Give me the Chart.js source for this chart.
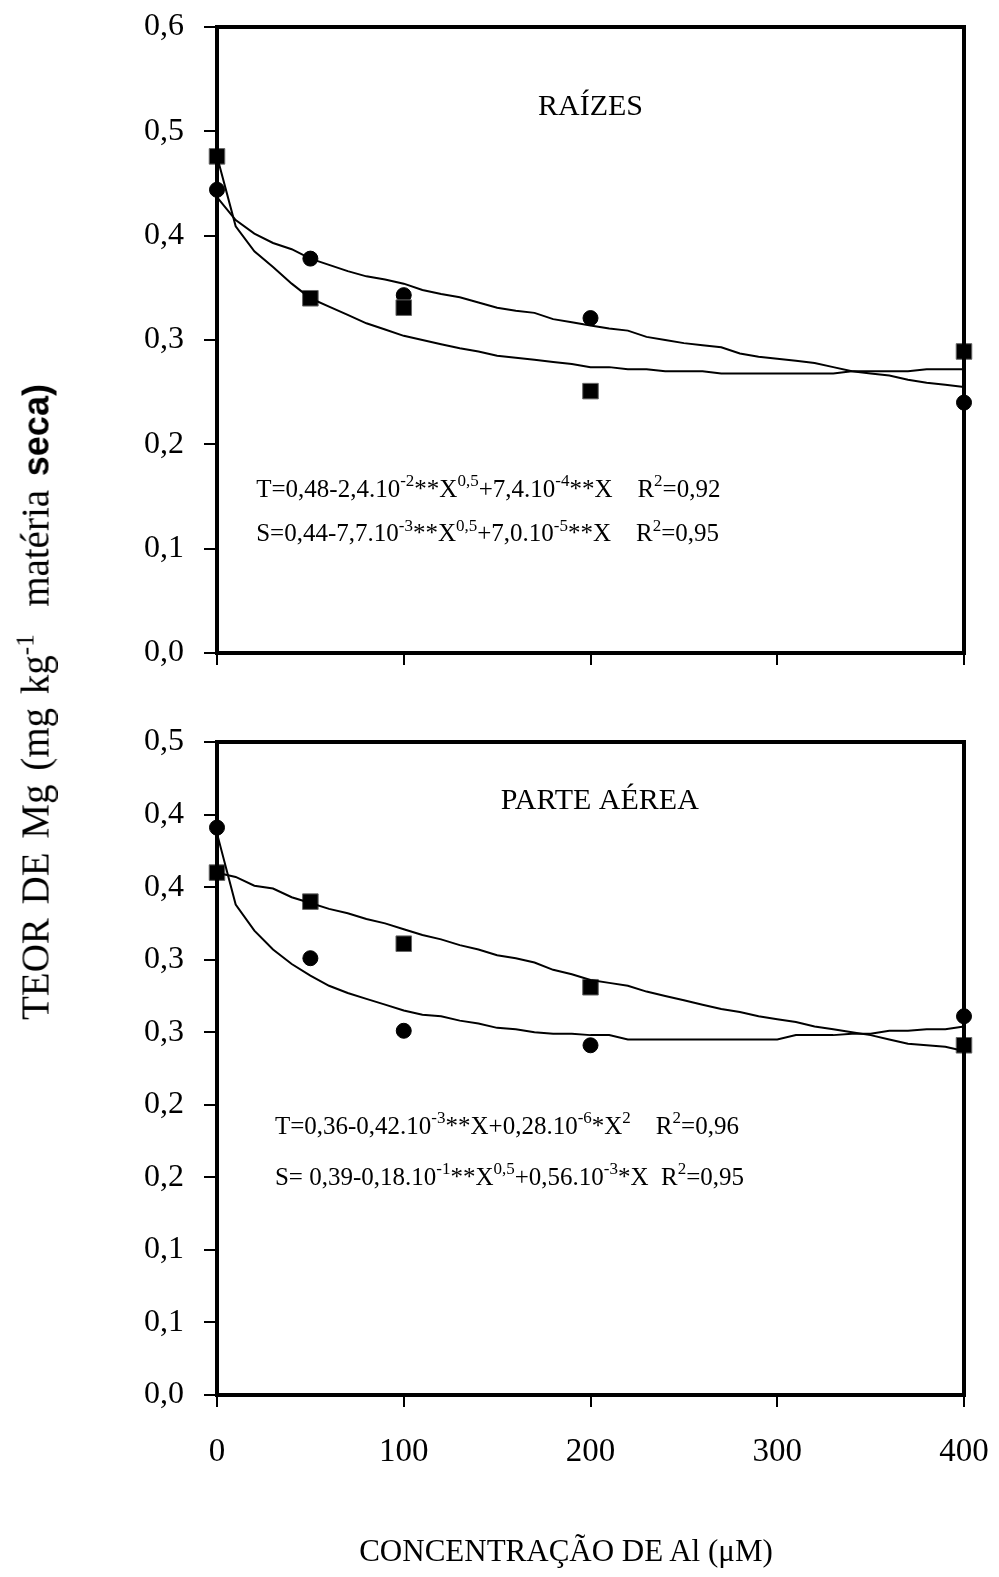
<!DOCTYPE html>
<html>
<head>
<meta charset="utf-8">
<script src="https://cdn.jsdelivr.net/npm/chart.js@4/dist/chart.umd.min.js"></script>
<style>
  body { margin: 0; background: #fff; width: 999px; height: 1577px; overflow: hidden; position: relative; }
  .panel { position: absolute; left: 0; width: 999px; }
  .ytitle {
    position: absolute; left: 35px; top: 702px; white-space: nowrap;
    transform: translate(-50%, -50%) rotate(-90deg);
    font-family: 'Liberation Serif', serif; font-size: 39px; color: #000; word-spacing: 4px;
  }
  .ytitle sup { font-size: 25px; vertical-align: 15px; line-height: 0; }
  .ytitle b { font-family: 'Liberation Sans', Arial, sans-serif; font-weight: bold; font-size: 36px; }
  .xtitle {
    position: absolute; left: 566px; top: 1551px; white-space: nowrap;
    transform: translate(-50%, -50%);
    font-family: 'Liberation Serif', serif; font-size: 31px; color: #000;
  }
</style>
</head>
<body>
<div class="panel" style="top:0;height:700px"><canvas id="raizes"></canvas></div>
<div class="panel" style="top:700px;height:877px"><canvas id="parte-aerea"></canvas></div>
<div class="ytitle">TEOR DE Mg (mg kg<sup>-1</sup>&nbsp; matéria <b>seca)</b></div>
<div class="xtitle">CONCENTRAÇÃO DE Al (μM)</div>
<script>
// doses de Al (µM) das observações
const doses = [0, 50, 100, 200, 400];
// eixo x das curvas ajustadas (vértices a cada 10 µM)
const dosesCurva = [0, 10, 20, 30, 40, 50, 60, 70, 80, 90, 100, 110, 120, 130, 140, 150, 160, 170, 180, 190, 200,
  210, 220, 230, 240, 250, 260, 270, 280, 290, 300, 310, 320, 330, 340, 350, 360, 370, 380, 390, 400];

// RAÍZES
const raizesT = [0.476, 0.340, 0.331, 0.251, 0.289];
const raizesS = [0.444, 0.378, 0.343, 0.321, 0.240];
const raizesCurvaT = [0.476, 0.409, 0.385, 0.370, 0.354, 0.340, 0.332, 0.324, 0.316, 0.310, 0.304, 0.300, 0.296, 0.292,
  0.289, 0.285, 0.283, 0.281, 0.279, 0.277, 0.274, 0.274, 0.272, 0.272, 0.270, 0.270, 0.270, 0.268, 0.268, 0.268, 0.268,
  0.268, 0.268, 0.268, 0.270, 0.270, 0.270, 0.270, 0.272, 0.272, 0.272];
const raizesCurvaS = [0.437, 0.415, 0.402, 0.393, 0.387, 0.378, 0.372, 0.366, 0.361, 0.358, 0.354, 0.348, 0.344, 0.341,
  0.336, 0.331, 0.328, 0.326, 0.320, 0.317, 0.314, 0.311, 0.309, 0.303, 0.300, 0.297, 0.295, 0.293, 0.287, 0.284, 0.282,
  0.280, 0.278, 0.274, 0.270, 0.268, 0.266, 0.262, 0.259, 0.257, 0.255];

// PARTE AÉREA
const aereaT = [0.360, 0.340, 0.311, 0.281, 0.241];
const aereaS = [0.391, 0.301, 0.251, 0.241, 0.261];
const aereaCurvaT = [0.360, 0.357, 0.351, 0.349, 0.343, 0.339, 0.335, 0.332, 0.328, 0.325, 0.321, 0.317, 0.314, 0.310,
  0.307, 0.303, 0.301, 0.298, 0.293, 0.290, 0.286, 0.284, 0.282, 0.278, 0.275, 0.272, 0.269, 0.266, 0.264, 0.261, 0.259,
  0.257, 0.254, 0.252, 0.250, 0.248, 0.245, 0.242, 0.241, 0.240, 0.237];
const aereaCurvaS = [0.387, 0.338, 0.320, 0.307, 0.297, 0.289, 0.282, 0.277, 0.273, 0.269, 0.265, 0.262, 0.261, 0.258,
  0.256, 0.253, 0.252, 0.250, 0.249, 0.249, 0.248, 0.248, 0.245, 0.245, 0.245, 0.245, 0.245, 0.245, 0.245, 0.245, 0.245,
  0.248, 0.248, 0.248, 0.249, 0.249, 0.251, 0.251, 0.252, 0.252, 0.254];

// rótulos dos eixos
const ticksX = ['0', '100', '200', '300', '400'];
const ticksYRaizes = ['0,0', '0,1', '0,2', '0,3', '0,4', '0,5', '0,6'];
const ticksYAerea = ['0,0', '0,1', '0,1', '0,2', '0,2', '0,3', '0,3', '0,4', '0,4', '0,5'];

const SERIF = "'Liberation Serif', 'Times New Roman', serif";

const pares = (xs, ys) => xs.map((x, i) => ({ x, y: ys[i] }));

// moldura do gráfico
const moldura = {
  id: 'moldura',
  afterDraw(chart) {
    const { ctx, chartArea: a } = chart;
    ctx.save();
    ctx.strokeStyle = '#000';
    ctx.lineWidth = 4;
    ctx.strokeRect(a.left, a.top, a.right - a.left, a.bottom - a.top);
    ctx.restore();
  }
};

// textos com sobrescrito: "X^{0,5}"
const textos = {
  id: 'textos',
  afterDraw(chart, args, opts) {
    const { ctx, scales } = chart;
    (opts.itens || []).forEach((item) => {
      const partes = [];
      item.texto.split(/(\^\{[^}]*\})/).forEach((p) => {
        if (!p) return;
        if (p.startsWith('^{')) partes.push({ t: p.slice(2, -1), sup: true });
        else partes.push({ t: p, sup: false });
      });
      const tam = item.tamanho;
      const fonte = (sup) => `${sup ? Math.round(tam * 0.66) : tam}px ${SERIF}`;
      ctx.save();
      ctx.fillStyle = '#000';
      ctx.textBaseline = 'alphabetic';
      ctx.textAlign = 'left';
      let largura = 0;
      partes.forEach((p) => { ctx.font = fonte(p.sup); largura += ctx.measureText(p.t).width; });
      let px = scales.x.getPixelForValue(item.x);
      const py = scales.y.getPixelForValue(item.y);
      if (item.centro) px -= largura / 2;
      partes.forEach((p) => {
        ctx.font = fonte(p.sup);
        ctx.fillText(p.t, px, p.sup ? py - tam * 0.42 : py);
        px += ctx.measureText(p.t).width;
      });
      ctx.restore();
    });
  }
};

const criarPainel = (id, cfg) => {
  new Chart(document.getElementById(id), {
    type: 'scatter',
    data: {
      datasets: [{
        label: 'T ajustado',
        type: 'line',
        data: pares(dosesCurva, cfg.curvaT),
        borderColor: '#000',
        borderWidth: 2,
        pointRadius: 0,
        tension: 0,
        fill: false
      }, {
        label: 'S ajustado',
        type: 'line',
        data: pares(dosesCurva, cfg.curvaS),
        borderColor: '#000',
        borderWidth: 2,
        pointRadius: 0,
        tension: 0,
        fill: false
      }, {
        label: 'T',
        data: pares(doses, cfg.obsT),
        pointStyle: 'rect',
        pointRadius: 11,
        backgroundColor: '#000',
        borderColor: '#666',
        borderWidth: 1,
        clip: false
      }, {
        label: 'S',
        data: pares(doses, cfg.obsS),
        pointStyle: 'circle',
        pointRadius: 7.5,
        backgroundColor: '#000',
        borderColor: '#000',
        borderWidth: 1,
        clip: false
      }]
    },
    options: {
      responsive: true,
      maintainAspectRatio: false,
      animation: false,
      layout: { padding: { left: 0, right: 35, top: cfg.topo, bottom: 0 } },
      plugins: {
        legend: { display: false },
        tooltip: { enabled: false },
        textos: { itens: cfg.textos }
      },
      scales: {
        x: {
          type: 'linear',
          min: 0,
          max: 400,
          afterFit: (s) => {
            s.height = cfg.alturaX;
            s.paddingLeft = 0;
            s.paddingRight = 0;
          },
          grid: { display: true, drawOnChartArea: false, drawTicks: true, tickLength: 12, color: '#000', lineWidth: 2 },
          border: { display: true, color: '#000', width: 4 },
          ticks: {
            display: cfg.rotulosX,
            stepSize: 100,
            padding: 26,
            color: '#000',
            font: { family: SERIF, size: 33 },
            callback: (v, i) => ticksX[i]
          }
        },
        y: {
          type: 'linear',
          min: 0,
          max: cfg.maxY,
          afterFit: (s) => {
            s.width = 217;
            s.paddingTop = 0;
            s.paddingBottom = 0;
          },
          grid: { display: true, drawOnChartArea: false, drawTicks: true, tickLength: 13, color: '#000', lineWidth: 2 },
          border: { display: true, color: '#000', width: 4 },
          ticks: {
            stepSize: cfg.passoY,
            padding: 20,
            color: '#000',
            font: { family: SERIF, size: 32 },
            callback: (v, i) => cfg.rotulosY[i]
          }
        }
      }
    },
    plugins: [moldura, textos]
  });
};

criarPainel('raizes', {
  obsT: raizesT, obsS: raizesS, curvaT: raizesCurvaT, curvaS: raizesCurvaS,
  maxY: 0.6, passoY: 0.1, rotulosY: ticksYRaizes, rotulosX: false,
  topo: 27, alturaX: 47,
  textos: [
    { texto: 'RAÍZES', x: 200, y: 0.516, tamanho: 30, centro: true },
    { texto: 'T=0,48-2,4.10^{-2}**X^{0,5}+7,4.10^{-4}**X    R^{2}=0,92', x: 21, y: 0.150, tamanho: 25 },
    { texto: 'S=0,44-7,7.10^{-3}**X^{0,5}+7,0.10^{-5}**X    R^{2}=0,95', x: 21, y: 0.107, tamanho: 25 }
  ]
});

criarPainel('parte-aerea', {
  obsT: aereaT, obsS: aereaS, curvaT: aereaCurvaT, curvaS: aereaCurvaS,
  maxY: 0.45, passoY: 0.05, rotulosY: ticksYAerea, rotulosX: true,
  topo: 42, alturaX: 182,
  textos: [
    { texto: 'PARTE AÉREA', x: 205, y: 0.404, tamanho: 30, centro: true },
    { texto: 'T=0,36-0,42.10^{-3}**X+0,28.10^{-6}*X^{2}    R^{2}=0,96', x: 31, y: 0.180, tamanho: 25 },
    { texto: 'S= 0,39-0,18.10^{-1}**X^{0,5}+0,56.10^{-3}*X  R^{2}=0,95', x: 31, y: 0.145, tamanho: 25 }
  ]
});
</script>
</body>
</html>
